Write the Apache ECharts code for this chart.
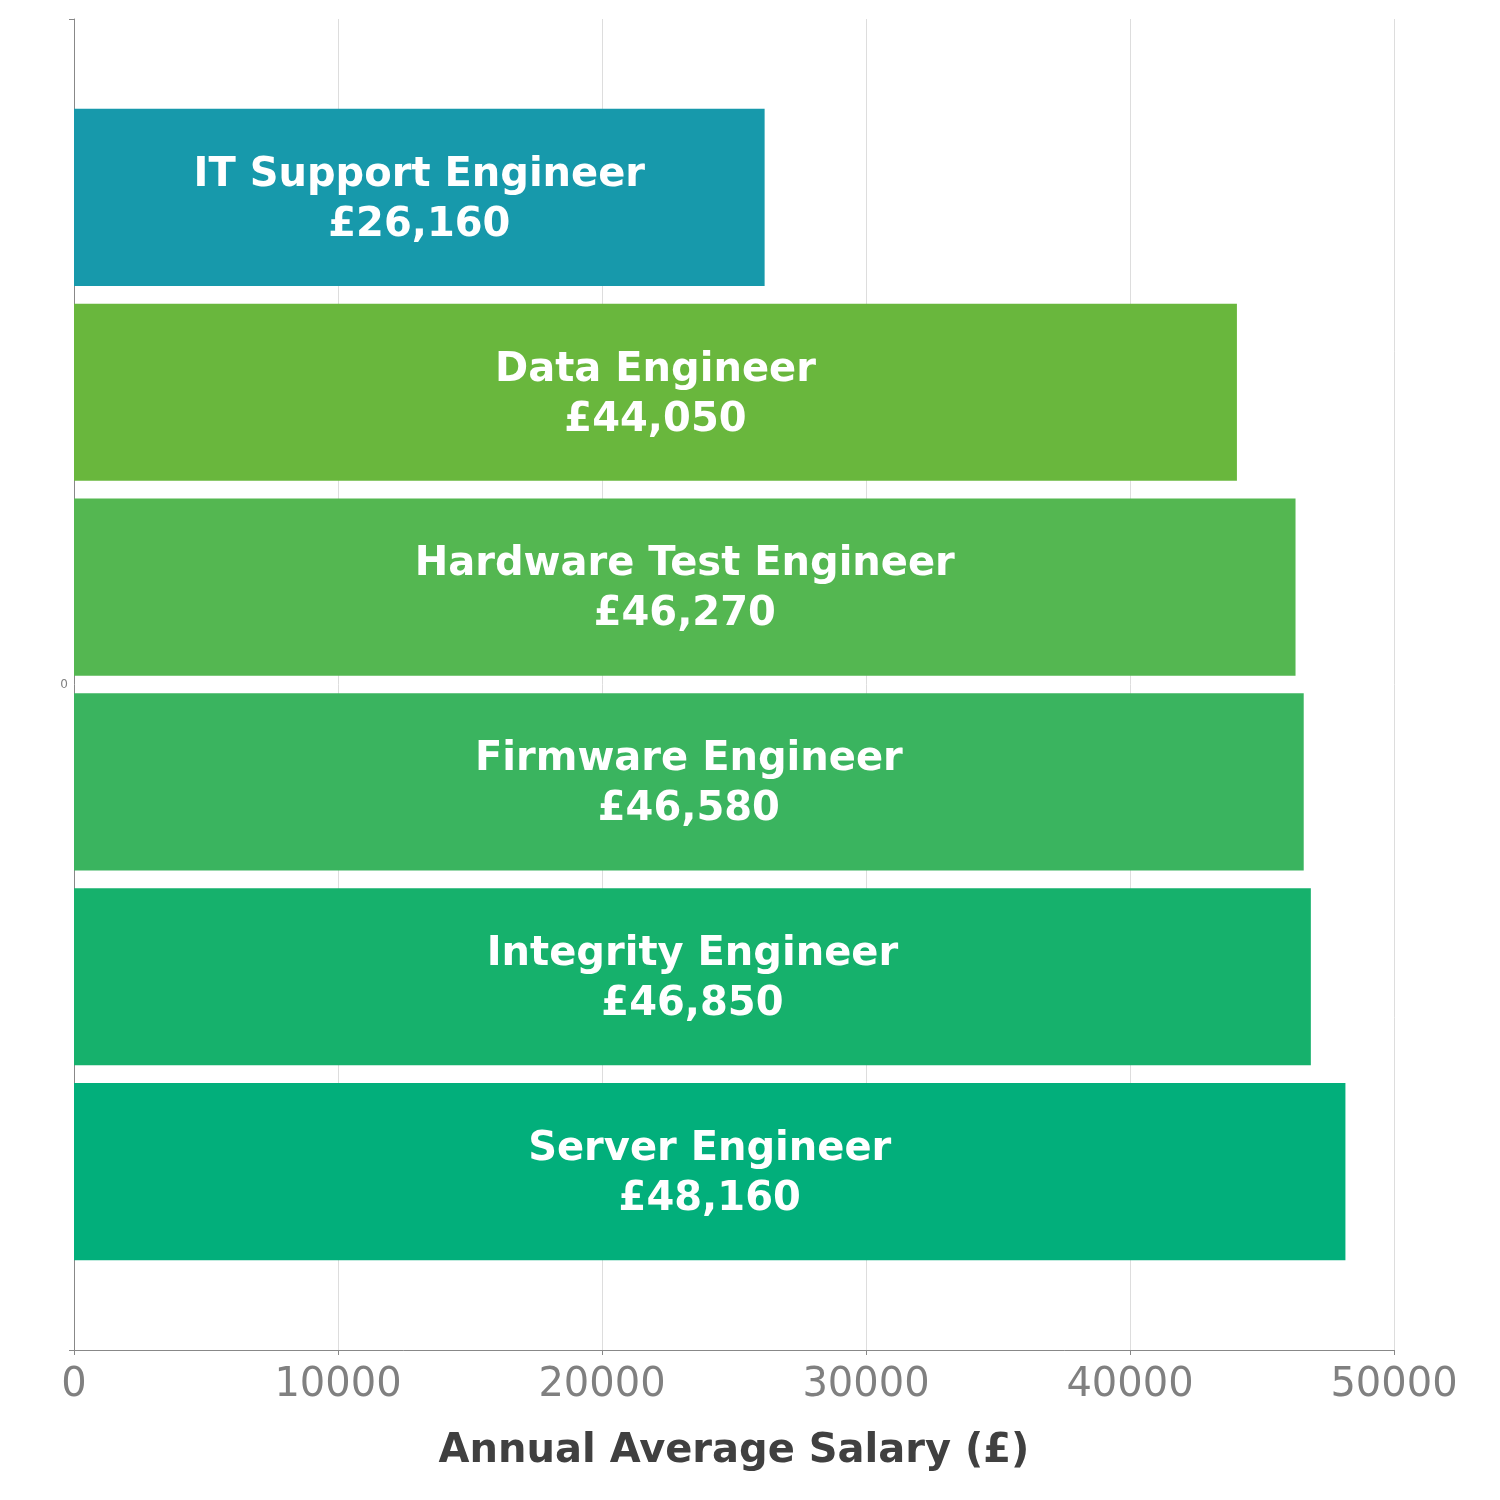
<!DOCTYPE html>
<html>
<head>
<meta charset="utf-8">
<script src="https://cdn.jsdelivr.net/npm/echarts@6/dist/echarts.min.js"></script>
<style>html,body{margin:0;padding:0;background:#fff}#c{width:1500px;height:1500px}</style>
</head>
<body>
<div id="c"></div>
<script>
const categories = ['0'];
const jobTitles = ['IT Support Engineer', 'Data Engineer', 'Hardware Test Engineer', 'Firmware Engineer', 'Integrity Engineer', 'Server Engineer'];
const salaries = [26160, 44050, 46270, 46580, 46850, 48160];
const barColors = ['#1799ab', '#69b73d', '#54b751', '#3ab45f', '#16b16c', '#02af7b'];
const xTicks = [0, 10000, 20000, 30000, 40000, 50000];

const FONT = 'DejaVu Sans';
const series = jobTitles.map((name, i) => ({
  type: 'bar',
  name: name,
  data: [salaries[i]],
  barGap: '10%',
  barCategoryGap: '13.5%',
  itemStyle: { color: barColors[i] },
  label: {
    show: true,
    position: 'inside',
    offset: [0, 3],
    fontFamily: FONT,
    fontWeight: 'bold',
    fontSize: 40,
    lineHeight: 50,
    color: '#ffffff',
    formatter: () => name + '\n£' + salaries[i].toLocaleString('en-GB')
  }
}));

const chart = echarts.init(document.getElementById('c'), null, { renderer: 'canvas' });
chart.setOption({
  animation: false,
  backgroundColor: '#ffffff',
  grid: { left: 74, right: 106, top: 19, bottom: 150, containLabel: false },
  xAxis: {
    type: 'value',
    min: xTicks[0],
    max: xTicks[xTicks.length - 1],
    interval: 10000,
    name: 'Annual Average Salary (£)',
    nameLocation: 'middle',
    nameGap: 82,
    nameTextStyle: { fontFamily: FONT, fontWeight: 'bold', fontSize: 40, color: '#404040' },
    axisLine: { show: true, lineStyle: { color: '#888888', width: 1 } },
    axisTick: { show: true, length: 5, lineStyle: { color: '#888888' } },
    axisLabel: { fontFamily: FONT, fontSize: 40, color: '#808080', margin: 16, formatter: v => String(v) },
    splitLine: { show: true, lineStyle: { color: '#dddddd', width: 1 } }
  },
  yAxis: {
    type: 'category',
    data: categories,
    inverse: true,
    axisLine: { show: true, lineStyle: { color: '#888888', width: 1 } },
    axisTick: { show: true, length: 5, lineStyle: { color: '#888888' } },
    axisLabel: { fontFamily: FONT, fontSize: 12, color: '#808080', margin: 6 },
    splitLine: { show: false }
  },
  series: series
});
</script>
</body>
</html>
